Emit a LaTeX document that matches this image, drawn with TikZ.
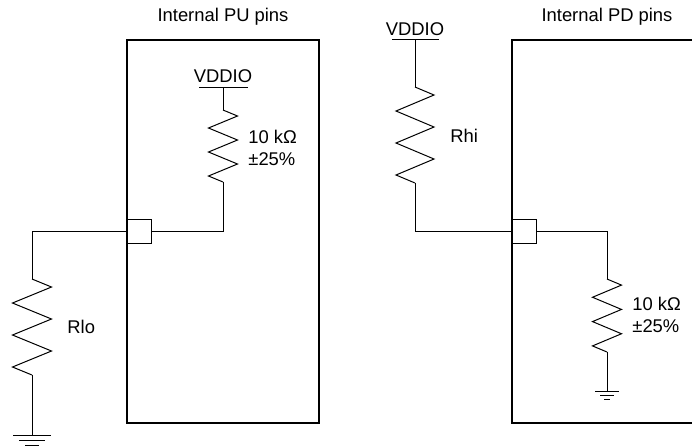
\documentclass[tikz,border=0pt]{standalone}
\usepackage{fontspec}
\setmainfont{Liberation Sans}
\tikzset{
  wire/.style={line width=0.5pt, line join=miter},
  chip/.style={line width=1.1pt},
  pinbox/.style={draw, line width=0.5pt, minimum size=12pt, inner sep=0pt, fill=white},
  lbl/.style={inner sep=0pt, font=\fontsize{9.2}{11}\selectfont},
}
% zigzag resistor: x, ytop, length, amplitude
\newcommand{\zres}[4]{%
  \draw[wire] (#1,#2) -- ({#1+#4},{#2+#3/12}) -- ({#1-#4},{#2+3*#3/12})
    -- ({#1+#4},{#2+5*#3/12}) -- ({#1-#4},{#2+7*#3/12})
    -- ({#1+#4},{#2+9*#3/12}) -- ({#1-#4},{#2+11*#3/12}) -- (#1,{#2+#3});}
\begin{document}
\begin{tikzpicture}[x=0.5pt,y=-0.5pt]
\clip (0,0) rectangle (692,447);
% chip outlines
\draw[chip] (127,40) rectangle (319,423);
\draw[chip] (512,40) rectangle (720,423);
% titles
\node[lbl, anchor=base] (tpu) at (223,21) {Internal PU pins};
\node[lbl, anchor=base] (tpd) at (607,21) {Internal PD pins};
% pins
\node[pinbox] (pinL) at (139,231) {};
\node[pinbox] (pinR) at (524,231) {};
% ---- left: internal pull-up ----
\node[lbl, anchor=base] (vddL) at (223,82) {VDDIO};
\draw[wire] (199,87) -- (248,87);
\coordinate (puTop) at (223,110);
\coordinate (puBot) at (223,182);
\draw[wire] (223,87) -- (puTop);
\zres{223}{110}{72}{14.5}
\draw[wire] (puBot) |- (pinL.east);
\node[lbl, anchor=base west] (puv) at (248,143) {10 k\symbol{"03A9}};
\node[lbl, anchor=base west] (put) at (248,165) {\symbol{"00B1}25\%};
% external Rlo
\coordinate (rloTop) at (32,279);
\coordinate (rloBot) at (32,375);
\draw[wire] (pinL.west) -| (rloTop);
\zres{32}{279}{96}{19.5}
\coordinate (gndL) at (32,435);
\draw[wire] (rloBot) -- (gndL);
\draw[wire] (13,435) -- (51,435);
\draw[wire] (19,440) -- (45,440);
\draw[wire] (25,445) -- (39,445);
\node[lbl, anchor=base west] (rlo) at (67,333) {Rlo};
% ---- right: internal pull-down ----
\node[lbl, anchor=base] (vddR) at (415,35) {VDDIO};
\draw[wire] (392,39) -- (439,39);
\coordinate (rhiTop) at (415,87);
\coordinate (rhiBot) at (415,183);
\draw[wire] (415,39) -- (rhiTop);
\zres{415}{87}{96}{19}
\draw[wire] (rhiBot) |- (pinR.west);
\node[lbl, anchor=base west] (rhi) at (450,142) {Rhi};
\coordinate (pdTop) at (607,279);
\coordinate (pdBot) at (607,352);
\draw[wire] (pinR.east) -| (pdTop);
\zres{607}{279}{73}{14.5}
\coordinate (gndR) at (607,391);
\draw[wire] (pdBot) -- (gndR);
\draw[wire] (595,391) -- (619,391);
\draw[wire] (600,395) -- (614,395);
\draw[wire] (604,399) -- (610,399);
\node[lbl, anchor=base west] (pdv) at (632,310) {10 k\symbol{"03A9}};
\node[lbl, anchor=base west] (pdt) at (632,332) {\symbol{"00B1}25\%};
\end{tikzpicture}
\end{document}
